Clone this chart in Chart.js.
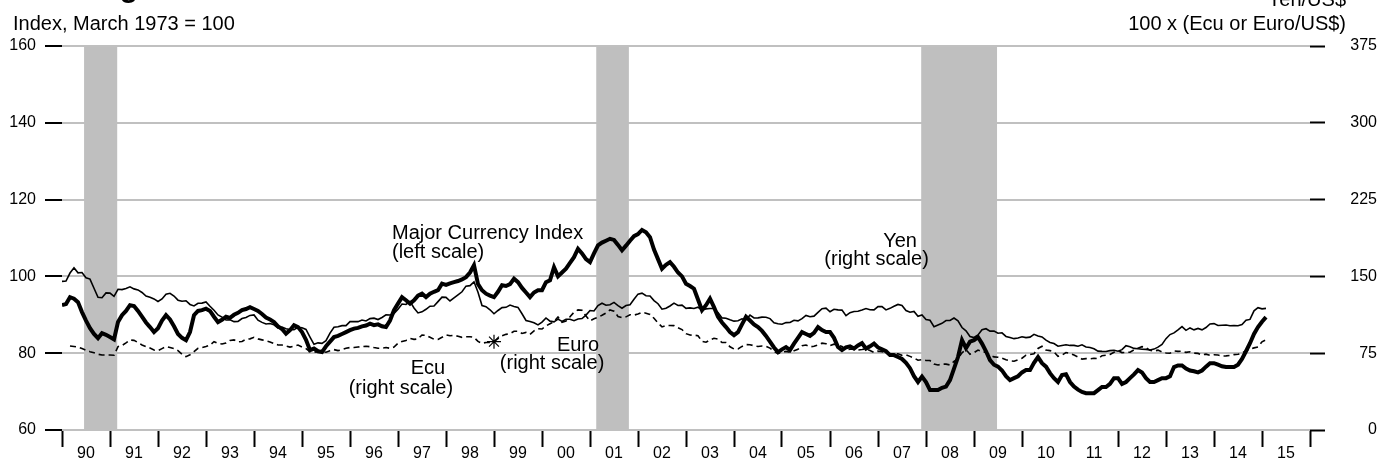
<!DOCTYPE html>
<html>
<head>
<meta charset="utf-8">
<script src="https://cdn.jsdelivr.net/npm/chart.js@4.4.1/dist/chart.umd.min.js"></script>
<style>
  html, body { margin: 0; padding: 0; background: #fff; }
  #c { display: block; }
</style>
</head>
<body>
<canvas id="c" width="1377" height="466"></canvas>
<script>
// ---------------- DATA ----------------
const START_YEAR = 1990;
const yearTickLabels = ['90','91','92','93','94','95','96','97','98','99','00','01','02','03','04','05','06','07','08','09','10','11','12','13','14','15'];

// Major Currency Index (left scale), monthly from Jan 1990
const mciValues = [
  92.5, 92.8, 94.6, 94.2, 93.3, 90.7, 88.5, 86.5, 85.0, 83.9, 85.2, 84.8,
  84.2, 83.6, 88.1, 89.9, 91.0, 92.5, 92.3, 91.0, 89.5, 88.0, 86.8, 85.5,
  86.5, 88.5, 89.9, 88.8, 87.0, 85.0, 84.0, 83.4, 85.5, 89.9, 91.0, 91.2,
  91.6, 91.0, 89.5, 88.1, 88.7, 89.5, 89.2, 90.0, 90.5, 91.2, 91.5, 92.0,
  91.5, 91.0, 90.2, 89.3, 88.8, 88.1, 87.0, 86.3, 85.1, 86.0, 87.3, 86.8,
  85.5, 83.5, 80.8, 81.2, 80.5, 80.3, 81.8, 83.0, 84.2, 84.5, 85.0, 85.5,
  86.0, 86.4, 86.6, 87.0, 87.2, 87.7, 87.3, 87.5, 87.0, 86.8, 88.5, 91.2,
  92.9, 94.6, 93.8, 92.9, 93.8, 95.0, 95.5, 94.6, 95.5, 96.0, 96.4, 98.1,
  97.8, 98.2, 98.5, 98.8, 99.2, 99.8, 101.0, 102.9, 98.0, 96.4, 95.5, 95.0,
  94.6, 96.0, 97.7, 97.5, 98.0, 99.4, 98.5, 97.0, 95.8, 94.6, 95.8, 96.4,
  96.4, 98.5, 99.0, 102.4, 100.0, 101.0, 102.0, 103.5, 105.0, 107.2, 106.0, 104.5,
  103.7, 106.0, 108.1, 108.8, 109.3, 109.8, 109.5, 108.2, 106.8, 108.0, 109.3, 110.5,
  111.0, 112.1, 111.5, 110.2, 107.0, 104.5, 102.0, 103.0, 103.7, 102.5, 101.0, 100.0,
  98.1, 97.5, 96.8, 94.0, 91.2, 92.5, 94.2, 92.0, 89.5, 88.0, 86.8, 85.5,
  84.7, 85.5, 87.5, 89.5, 88.5, 87.5, 86.8, 85.8, 84.5, 83.0, 81.5, 80.3,
  81.0, 81.6, 80.8, 82.5, 84.0, 85.5, 85.0, 84.5, 85.3, 86.8, 86.0, 85.5,
  85.5, 84.0, 81.6, 80.8, 81.5, 81.8, 81.2, 82.0, 82.6, 81.2, 81.8, 82.5,
  81.5, 81.0, 80.5, 79.5, 79.5, 79.0, 78.5, 77.5, 76.1, 74.0, 72.5, 73.9,
  72.5, 70.4, 70.4, 70.4, 71.0, 71.3, 73.0, 76.0, 79.0, 83.4, 81.3, 83.0,
  83.4, 84.2, 82.5, 80.5, 78.2, 77.0, 76.5, 75.5, 74.0, 73.0, 73.5, 74.0,
  75.0, 75.6, 75.6, 77.5, 79.0, 77.4, 76.5, 74.8, 73.5, 72.5, 74.3, 74.5,
  72.5, 71.3, 70.5, 69.9, 69.6, 69.6, 69.6, 70.4, 71.2, 71.2, 72.0, 73.5,
  73.5, 72.0, 72.5, 73.5, 74.5, 75.6, 75.0, 73.5, 72.5, 72.5, 73.0, 73.5,
  73.5, 74.0, 76.4, 76.8, 76.8, 76.0, 75.5, 75.3, 75.0, 75.5, 76.5, 77.4,
  77.4, 77.0, 76.6, 76.4, 76.4, 76.4, 77.0, 78.5, 80.5, 82.6, 85.0, 86.8,
  88.2, 89.4
];

// Yen per US$ (right scale), monthly from Jan 1990
const yenValues = [
  145.1, 145.5, 153.3, 158.5, 153.5, 153.8, 148.6, 147.4, 138.4, 129.6, 129.2, 133.9,
  133.7, 130.5, 137.4, 137.1, 138.2, 139.8, 137.8, 136.8, 134.3, 130.8, 129.6, 128.0,
  125.5, 128.0, 132.7, 133.5, 130.8, 126.8, 125.8, 126.2, 122.6, 121.2, 123.8, 123.9,
  125.0, 120.8, 117.0, 112.4, 110.3, 107.4, 107.7, 105.8, 106.1, 108.9, 109.8, 111.9,
  112.4, 107.3, 105.1, 103.5, 104.0, 102.7, 99.5, 100.6, 98.9, 98.2, 97.9, 100.2,
  99.8, 98.2, 90.8, 83.7, 85.1, 84.6, 87.2, 94.6, 100.3, 100.8, 101.9, 101.9,
  105.8, 105.8, 105.8, 107.4, 106.5, 108.8, 109.2, 107.9, 109.9, 112.4, 112.3, 113.8,
  118.0, 123.0, 122.6, 125.6, 119.2, 114.3, 115.4, 117.9, 120.9, 121.1, 125.4, 129.7,
  129.5, 126.0, 129.0, 132.0, 135.0, 140.5, 141.0, 144.7, 134.5, 121.5, 120.5, 117.4,
  113.5, 116.7, 119.5, 119.8, 122.0, 120.7, 119.7, 113.5, 107.0, 106.0, 104.7, 102.6,
  105.3, 109.4, 106.3, 105.6, 108.3, 106.1, 108.2, 108.1, 106.8, 108.4, 108.9, 112.2,
  116.7, 116.2, 121.5, 123.8, 121.8, 122.3, 124.6, 121.5, 118.9, 121.5, 122.4, 127.6,
  132.7, 133.6, 131.1, 130.8, 126.4, 123.3, 118.0, 118.9, 121.1, 123.9, 121.6, 121.9,
  118.8, 119.3, 118.7, 119.9, 117.4, 118.3, 118.7, 118.7, 114.8, 109.5, 109.2, 107.7,
  106.3, 106.7, 108.5, 107.7, 112.2, 109.4, 109.5, 110.2, 110.1, 108.8, 104.7, 103.8,
  103.3, 104.9, 105.0, 107.2, 106.6, 108.8, 111.9, 110.6, 111.2, 114.9, 118.5, 119.0,
  115.5, 117.9, 117.3, 117.1, 111.7, 114.6, 115.7, 115.9, 117.2, 118.6, 117.4, 117.3,
  120.5, 120.5, 117.3, 118.8, 120.8, 122.6, 121.6, 116.7, 115.0, 115.8, 111.1, 112.4,
  107.8, 107.1, 100.8, 102.6, 104.2, 106.9, 106.9, 109.3, 106.6, 100.1, 96.8, 91.3,
  90.3, 92.8, 97.9, 98.9, 96.6, 96.6, 94.5, 94.9, 91.4, 90.3, 89.2, 89.9,
  91.1, 90.2, 90.7, 93.4, 91.8, 90.9, 87.7, 85.4, 84.4, 81.8, 82.6, 83.3,
  82.6, 82.6, 81.8, 83.2, 81.1, 80.5, 79.3, 77.0, 76.8, 76.7, 77.5, 77.8,
  76.9, 78.5, 82.4, 81.4, 79.7, 79.3, 78.9, 78.7, 78.2, 79.0, 80.9, 83.6,
  89.2, 93.2, 94.8, 97.8, 101.0, 97.3, 99.7, 97.8, 99.2, 97.8, 100.1, 103.5,
  103.9, 102.1, 102.3, 102.5, 101.8, 102.1, 101.8, 102.9, 107.1, 108.0, 116.4, 119.4,
  118.3, 118.8
];

// 100 x Ecu/US$ (right scale), monthly from Mar 1990 to Dec 1998
const ECU_START_MONTH = 3;
const ecuValues = [
  82.0, 81.5, 81.0, 79.5, 78.0, 76.5, 75.5, 74.0, 73.2, 73.2,
  73.2, 73.0, 81.4, 82.5, 85.0, 87.9, 87.5, 85.5, 83.0, 81.5, 80.0, 78.1,
  77.5, 79.5, 81.4, 80.5, 79.5, 77.5, 74.0, 71.6, 73.5, 76.5, 79.8, 80.5,
  81.5, 83.0, 86.2, 84.5, 84.0, 85.0, 87.5, 88.0, 86.0, 86.5, 88.5, 89.0,
  90.5, 89.0, 88.0, 87.0, 86.0, 84.5, 83.0, 83.0, 82.0, 81.0, 82.0, 83.0,
  81.0, 79.5, 76.5, 76.0, 76.5, 76.5, 76.0, 77.5, 78.5, 77.5, 78.5, 79.8,
  80.5, 80.5, 81.0, 81.5, 81.8, 81.4, 80.5, 79.8, 80.0, 80.5, 79.8, 81.0,
  84.7, 86.5, 87.5, 89.5, 88.5, 89.0, 92.8, 92.5, 90.5, 88.6, 88.5, 90.5,
  92.8, 92.0, 92.5, 91.5, 90.5, 91.0, 91.1, 90.5, 86.5, 84.7, 85.5, 85.5
];

// 100 x Euro/US$ (right scale), monthly from Jan 1999
const EURO_START_YEAR = 1999;
const euroValues = [
  86.3, 89.3, 91.9, 93.4, 94.1, 96.4, 96.4, 94.3, 95.3, 93.4, 96.8, 98.9,
  98.6, 101.7, 103.7, 105.8, 110.4, 105.2, 106.5, 110.6, 115.0, 117.3, 116.9, 111.3,
  106.7, 108.6, 110.1, 112.0, 114.2, 117.2, 116.1, 110.9, 109.7, 110.5, 112.6, 112.2,
  113.2, 114.9, 114.1, 112.9, 109.1, 104.6, 100.7, 102.1, 102.0, 101.9, 99.9, 98.1,
  94.1, 92.7, 92.6, 92.1, 86.5, 85.7, 88.0, 89.6, 88.8, 85.4, 85.4, 81.3,
  79.1, 79.1, 81.6, 83.4, 83.3, 82.3, 81.5, 82.0, 81.8, 80.0, 76.9, 74.6,
  76.2, 76.8, 75.8, 77.3, 78.8, 82.3, 83.0, 81.3, 81.7, 83.2, 84.8, 84.3,
  82.5, 83.8, 83.1, 81.5, 78.3, 79.0, 78.9, 78.1, 78.6, 79.3, 77.6, 75.7,
  77.0, 76.5, 75.5, 74.0, 74.0, 74.5, 72.9, 73.4, 71.9, 70.3, 68.1, 68.7,
  67.9, 67.8, 64.4, 63.5, 64.3, 64.3, 63.5, 66.9, 69.7, 75.4, 78.5, 74.0,
  75.5, 78.1, 76.6, 75.8, 73.3, 71.4, 71.0, 70.1, 68.6, 67.5, 67.1, 68.6,
  70.1, 73.1, 73.7, 74.5, 79.6, 81.8, 78.1, 77.5, 76.3, 71.9, 73.2, 75.6,
  74.8, 73.2, 71.3, 69.2, 69.7, 69.5, 70.1, 69.7, 72.6, 73.0, 73.8, 75.9,
  77.5, 75.6, 75.8, 76.0, 78.2, 79.8, 81.4, 80.6, 77.8, 77.1, 78.0, 76.2,
  75.2, 74.9, 77.2, 76.8, 77.0, 75.8, 76.4, 75.1, 74.8, 73.3, 74.1, 73.0,
  73.5, 73.2, 72.3, 72.4, 72.8, 73.6, 73.9, 75.1, 77.5, 78.9, 80.2, 81.1,
  86.1, 88.1
];

// Recession periods (fractional years)
const recessions = [
  [1990.46, 1991.15],
  [2001.13, 2001.81],
  [2007.90, 2009.48]
];

// Text labels anchored in data coordinates (x: year, y: left-scale value)
const annotations = [
  { text: 'Major Currency Index', x: 1996.875, y: 111.3, align: 'left' },
  { text: '(left scale)',         x: 1996.875, y: 106.1, align: 'left' },
  { text: 'Ecu',                  x: 1997.625, y: 76.1,  align: 'center' },
  { text: '(right scale)',        x: 1997.06,  y: 70.9,  align: 'center' },
  { text: 'Euro',                 x: 2000.75,  y: 81.9,  align: 'center' },
  { text: '(right scale)',        x: 2000.21,  y: 77.2,  align: 'center' },
  { text: 'Yen',                  x: 2007.46,  y: 109.0, align: 'center' },
  { text: '(right scale)',        x: 2006.97,  y: 104.3, align: 'center' }
];

// ---------------- BUILD ----------------
function toPoints(values, startYear, startMonth) {
  return values.map((v, i) => ({ x: startYear + (startMonth - 1 + i) / 12, y: v }));
}

const FONT = "'Liberation Sans', Arial, Helvetica, sans-serif";
Chart.defaults.font.family = FONT;
Chart.defaults.font.size = 16;
Chart.defaults.color = '#000';

const recessionPlugin = {
  id: 'recessions',
  beforeDatasetsDraw(chart) {
    const { ctx, chartArea, scales } = chart;
    ctx.save();
    ctx.fillStyle = '#bfbfbf';
    recessions.forEach(([a, b]) => {
      const x1 = scales.x.getPixelForValue(a);
      const x2 = scales.x.getPixelForValue(b);
      ctx.fillRect(x1, chartArea.top + 1, x2 - x1, chartArea.bottom - chartArea.top - 1);
    });
    ctx.restore();
  }
};

const textPlugin = {
  id: 'texts',
  afterDraw(chart) {
    const { ctx, scales } = chart;
    ctx.save();
    ctx.fillStyle = '#000';
    ctx.textBaseline = 'middle';
    ctx.font = '20px ' + FONT;
    annotations.forEach(a => {
      ctx.textAlign = a.align;
      ctx.fillText(a.text, scales.x.getPixelForValue(a.x), scales.y.getPixelForValue(a.y));
    });
    // headers
    ctx.textBaseline = 'alphabetic';
    ctx.textAlign = 'left';
    ctx.font = 'bold 30px ' + FONT;
    ctx.fillText('Exchange Rates', 13, -3);
    ctx.font = '20px ' + FONT;
    ctx.fillText('Index, March 1973 = 100', 13, 30);
    ctx.textAlign = 'right';
    ctx.fillText('Yen/US$', 1346, 6);
    ctx.fillText('100 x (Ecu or Euro/US$)', 1346, 30);
    ctx.restore();
  }
};

new Chart(document.getElementById('c'), {
  type: 'line',
  data: {
    datasets: [
      {
        label: 'Major Currency Index',
        data: toPoints(mciValues, START_YEAR, 1),
        yAxisID: 'y',
        borderColor: '#000',
        borderWidth: 4,
        pointRadius: 0,
        tension: 0
      },
      {
        label: 'Yen',
        data: toPoints(yenValues, START_YEAR, 1),
        yAxisID: 'y2',
        borderColor: '#000',
        borderWidth: 1.6,
        pointRadius: 0,
        tension: 0
      },
      {
        label: 'Ecu',
        data: toPoints(ecuValues, START_YEAR, ECU_START_MONTH),
        yAxisID: 'y2',
        borderColor: '#000',
        borderWidth: 1.6,
        borderDash: [6, 4],
        pointRadius: 0,
        tension: 0
      },
      {
        label: 'Euro',
        data: toPoints(euroValues, EURO_START_YEAR, 1),
        yAxisID: 'y2',
        borderColor: '#000',
        borderWidth: 1.6,
        borderDash: [6, 4],
        pointStyle: 'star',
        pointRadius: c => (c.dataIndex === 0 ? 7 : 0),
        pointBorderColor: '#000',
        pointBorderWidth: 1.2,
        tension: 0
      }
    ]
  },
  options: {
    responsive: false,
    animation: false,
    devicePixelRatio: 1,
    layout: { padding: { top: 46, left: 0, right: 0, bottom: 0 } },
    plugins: { legend: { display: false }, tooltip: { enabled: false } },
    scales: {
      x: {
        type: 'linear',
        min: 1990,
        max: 2016,
        ticks: {
          stepSize: 1,
          autoSkip: false,
          maxRotation: 0,
          labelOffset: 24,
          padding: -3,
          font: { size: 16 },
          callback: v => (v >= 1990 && v < 2016 ? yearTickLabels[Math.round(v) - 1990] : '')
        },
        grid: { drawOnChartArea: false, drawTicks: true, tickLength: 17, tickColor: '#000', tickWidth: 2 },
        border: { display: false },
        afterFit: s => { s.height = 36; }
      },
      y: {
        position: 'left',
        min: 60,
        max: 160,
        ticks: { stepSize: 20, padding: 9, font: { size: 16 } },
        grid: { color: '#c0c0c0', lineWidth: 2, tickColor: '#000', tickWidth: 2, tickLength: 17 },
        border: { display: false },
        afterFit: s => { s.width = 62; }
      },
      y2: {
        position: 'right',
        min: 0,
        max: 375,
        ticks: { stepSize: 75, padding: 21, crossAlign: 'far', font: { size: 16 } },
        grid: { drawOnChartArea: false, tickColor: '#000', tickWidth: 2, tickLength: 15 },
        border: { display: false },
        afterFit: s => { s.width = 67; }
      }
    }
  },
  plugins: [recessionPlugin, textPlugin]
});
</script>
</body>
</html>
